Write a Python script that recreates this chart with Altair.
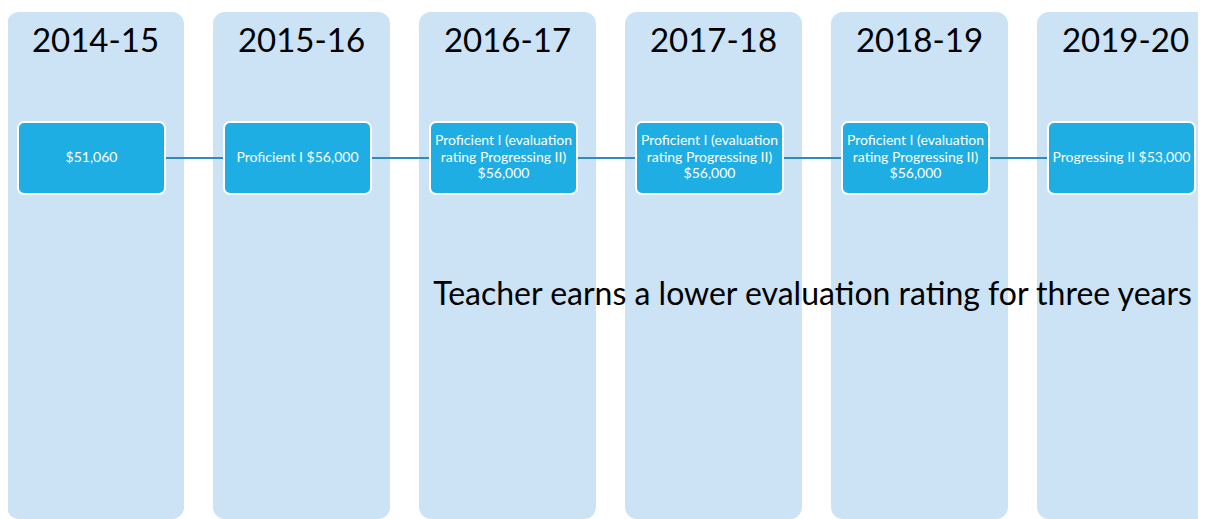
import altair as alt
import pandas as pd

# ---- data ----
years = ["2014-15", "2015-16", "2016-17", "2017-18", "2018-19", "2019-20"]
box_labels = [
    "$51,060",
    "Proficient I $56,000",
    "Proficient I (evaluation\nrating Progressing II)\n$56,000",
    "Proficient I (evaluation\nrating Progressing II)\n$56,000",
    "Proficient I (evaluation\nrating Progressing II)\n$56,000",
    "Progressing II $53,000",
]
annotation = ["Teacher earns a lower evaluation rating for three years"]

# ---- layout constants (px-based helper units) ----
W, H = 1190, 511
PITCH = 206.0
X0 = 83.5  # plot px of first box centre
LH = 16.5
col_off = 4 / PITCH
col_half = 88.5 / PITCH
box_half = 73.5 / PITCH

df = pd.DataFrame({"idx": list(range(len(years))), "year": years, "label": box_labels})
df["col_c"] = df["idx"] + col_off
df["col_l"] = df["col_c"] - col_half
df["col_r"] = df["col_c"] + col_half
df["box_l"] = df["idx"] - box_half
df["box_r"] = df["idx"] + box_half
df["col_top"] = 4
df["col_bot"] = 511
df["box_top"] = 114
df["box_bot"] = 186
df["year_y"] = 44
df["nlines"] = df["label"].str.count("\n") + 1
df["box_y"] = 149.5 - (df["nlines"] - 1) * LH / 2

xscale = alt.Scale(domain=[-X0 / PITCH, (W - X0) / PITCH], nice=False, zero=False)
yscale = alt.Scale(domain=[0, H], reverse=True, nice=False, zero=False)

base = alt.Chart(df)

cols = base.mark_bar(color="#CCE2F5", cornerRadius=12).encode(
    x=alt.X("col_l:Q", scale=xscale, axis=None),
    x2="col_r:Q",
    y=alt.Y("col_top:Q", scale=yscale, axis=None),
    y2="col_bot:Q",
)

year_text = base.mark_text(
    font="Lato", fontSize=33, color="#000000", baseline="alphabetic", align="center"
).encode(
    x=alt.X("col_c:Q", scale=xscale, axis=None),
    y=alt.Y("year_y:Q", scale=yscale, axis=None),
    text="year:N",
)

line_df = pd.DataFrame({"x1": [0], "x2": [len(years) - 1], "y": [150]})
connector = alt.Chart(line_df).mark_rule(color="#2E8BC0", strokeWidth=2).encode(
    x=alt.X("x1:Q", scale=xscale, axis=None),
    x2="x2:Q",
    y=alt.Y("y:Q", scale=yscale, axis=None),
)

boxes = base.mark_rect(
    color="#1EAEE3", stroke="#FFFFFF", strokeWidth=2, cornerRadius=6
).encode(
    x=alt.X("box_l:Q", scale=xscale, axis=None),
    x2="box_r:Q",
    y=alt.Y("box_top:Q", scale=yscale, axis=None),
    y2="box_bot:Q",
)

box_text = base.mark_text(
    font="Lato", fontSize=14, color="#FFFFFF", baseline="middle", align="center",
    lineBreak="\n", lineHeight=LH,
).encode(
    x=alt.X("idx:Q", scale=xscale, axis=None),
    y=alt.Y("box_y:Q", scale=yscale, axis=None),
    text="label:N",
)

ann_df = pd.DataFrame({"x": [3.5], "y": [297], "t": annotation})
ann = alt.Chart(ann_df).mark_text(
    font="Lato", fontSize=32, color="#000000", baseline="alphabetic", align="center"
).encode(
    x=alt.X("x:Q", scale=xscale, axis=None),
    y=alt.Y("y:Q", scale=yscale, axis=None),
    text="t:N",
)

chart = alt.layer(cols, year_text, connector, boxes, box_text, ann).properties(
    width=W, height=H, padding=0, autosize=alt.AutoSizeParams(type="none"),
    background="#FFFFFF",
).configure_view(stroke=None)

chart.save("out.html", embed_options={"renderer": "svg", "actions": False})
